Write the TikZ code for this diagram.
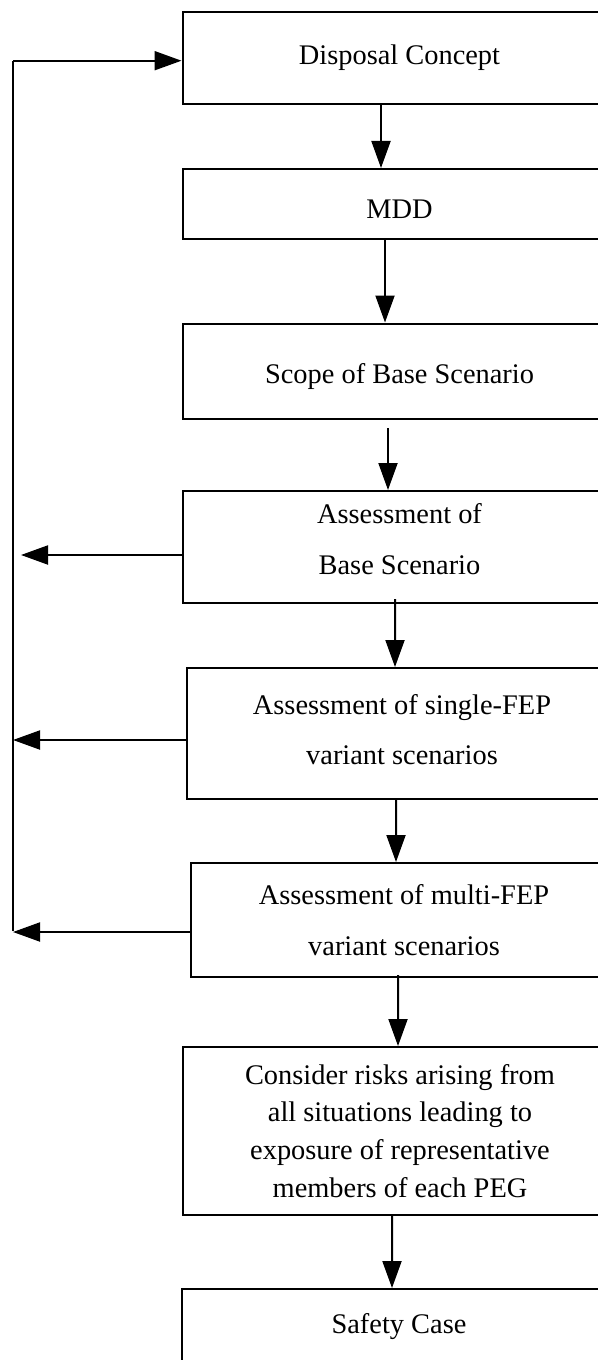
\documentclass[tikz,border=0pt]{standalone}
\usepackage{fontspec}
\setmainfont{Liberation Serif}
\usetikzlibrary{arrows.meta}
\begin{document}
\begin{tikzpicture}[x=1bp,y=-1bp,
  box/.style={draw, line width=2bp, anchor=north west, inner sep=0pt,
    align=center, font=\fontsize{28.5}{38}\selectfont},
  wide/.style={font=\fontsize{28.5}{51}\selectfont},
  flow/.style={line width=2bp, -{Triangle[length=27bp,width=19bp]}},
  link/.style={line width=2bp}]
\useasboundingbox (0,0) rectangle (598,1360);

% process boxes (they run off the right edge of the page)
\node[box, minimum width=434bp, minimum height=92bp]  (disp)   at (181.5,11)  {Disposal Concept};
\node[box, minimum width=434bp, minimum height=70bp, text height=30bp]  (mdd) at (181.5,168) {MDD};
\node[box, minimum width=434bp, minimum height=95.5bp, text height=30bp](scope) at (181.5,322.5) {Scope of Base Scenario};
\node[box, wide, minimum width=434bp, minimum height=112bp, text depth=16bp] (base) at (181.5,490) {Assessment of\\ Base Scenario};
\node[box, wide, minimum width=430bp, minimum height=131bp, text depth=8bp] (single) at (186,667) {Assessment of single-FEP\\ variant scenarios};
\node[box, wide, minimum width=426bp, minimum height=114bp] (multi) at (190,862) {Assessment of multi-FEP\\ variant scenarios};
\node[box, minimum width=434bp, minimum height=168bp] (risk) at (182,1046) {Consider risks arising from\\ all situations leading to\\ exposure of representative\\ members of each PEG};
\node[box, minimum width=434bp, minimum height=76bp] (safe) at (181,1288) {Safety Case};

% main downward flow
\draw[flow] ([xshift=199.5bp]disp.south west)  -- ([xshift=199.5bp]mdd.north west);
\draw[flow] ([xshift=203.5bp]mdd.south west)   -- ([xshift=203.5bp]scope.north west);
\draw[flow] ([xshift=206.5bp,yshift=-8bp]scope.south west) -- ([xshift=206.5bp]base.north west);
\draw[flow] ([xshift=213.5bp,yshift=5bp]base.south west) -- ([xshift=209bp]single.north west);
\draw[flow] ([xshift=210bp]single.south west)  -- ([xshift=206bp]multi.north west);
\draw[flow] ([xshift=208bp,yshift=3bp]multi.south west) -- ([xshift=216bp]risk.north west);
\draw[flow] ([xshift=210bp]risk.south west)    -- ([xshift=211bp]safe.north west);

% feedback loop on the left
\coordinate (loopTop) at (13,60.7);
\coordinate (loopBot) at (13,931);
\coordinate (baseEnd) at (21,555);
\draw[link] (loopBot) -- (loopTop);
\draw[flow] (loopTop) -- (loopTop -| disp.west);
\draw[flow] (base.west |- baseEnd) -- (baseEnd);
\draw[flow] ([yshift=-6.5bp]single.west) -- ([yshift=-6.5bp]single.west -| loopTop);
\draw[flow] ([yshift=-12bp]multi.west) -- ([yshift=-12bp]multi.west -| loopTop);
\end{tikzpicture}
\end{document}
